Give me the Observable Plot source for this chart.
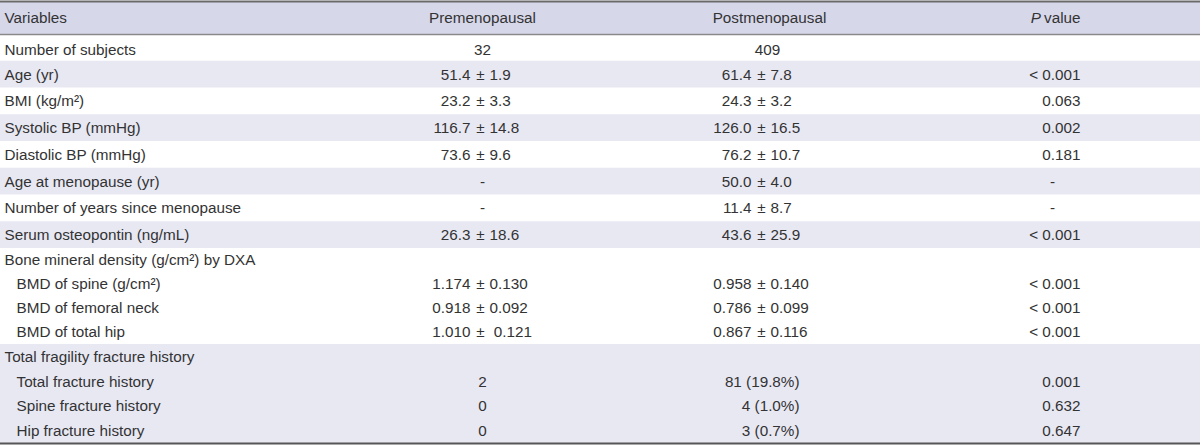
<!DOCTYPE html>
<html>
<head>
<meta charset="utf-8">
<script src="https://cdn.jsdelivr.net/npm/d3@7"></script>
<script src="https://cdn.jsdelivr.net/npm/@observablehq/plot@0.6"></script>
<style>
  html, body { margin: 0; padding: 0; background: #fff; }
  #chart svg { display: block; }
</style>
</head>
<body>
<div id="chart"></div>
<script>
// ---------- DATA ----------
const headers = ["Variables", "Premenopausal", "Postmenopausal", "P value"];
const variables = [
  "Number of subjects",
  "Age (yr)",
  "BMI (kg/m²)",
  "Systolic BP (mmHg)",
  "Diastolic BP (mmHg)",
  "Age at menopause (yr)",
  "Number of years since menopause",
  "Serum osteopontin (ng/mL)",
  "Bone mineral density (g/cm²) by DXA",
  "BMD of spine (g/cm²)",
  "BMD of femoral neck",
  "BMD of total hip",
  "Total fragility fracture history",
  "Total fracture history",
  "Spine fracture history",
  "Hip fracture history"
];
const subItem = [0,0,0,0,0,0,0,0,0,1,1,1,0,1,1,1];
const groupOf = [0,1,2,3,4,5,6,7,8,8,8,8,9,9,9,9];
const premenopausal = [
  "32", "51.4 ± 1.9", "23.2 ± 3.3", "116.7 ± 14.8", "73.6 ± 9.6", "-", "-", "26.3 ± 18.6",
  "", "1.174 ± 0.130", "0.918 ± 0.092", "1.010 ±  0.121",
  "", "2", "0", "0"
];
const postmenopausal = [
  "409", "61.4 ± 7.8", "24.3 ± 3.2", "126.0 ± 16.5", "76.2 ± 10.7", "50.0 ± 4.0", "11.4 ± 8.7", "43.6 ± 25.9",
  "", "0.958 ± 0.140", "0.786 ± 0.099", "0.867 ± 0.116",
  "", "81 (19.8%)", "4 (1.0%)", "3 (0.7%)"
];
const pValues = [
  "", "< 0.001", "0.063", "0.002", "0.181", "-", "-", "< 0.001",
  "", "< 0.001", "< 0.001", "< 0.001",
  "", "0.001", "0.632", "0.647"
];

// ---------- LAYOUT ----------
const W = 1200, H = 445;
const FONT = "'Liberation Sans', Arial, sans-serif";
const FS = 15.25;
const TXT = "#333";
const headerTop = 1, headerH = 33;
const rowH = 26.75;
const groupLineH = [24, 24.75];
const colX = {var: 4, indent: 16, prePM: 480, preC: 482, postPM: 761, postC: 767, postR: 799, pR: 1080, pC: 1052};
const pmGap = 10;

const ctx = document.createElement("canvas").getContext("2d");
ctx.font = `${FS}px ${FONT}`;
const measure = s => ctx.measureText(s).width;

const lines = [];
const bands = [];
let yCur = headerTop + headerH;
let gIdx = 0;
for (let g = 0; g <= 9; g++) {
  const members = d3.range(variables.length).filter(i => groupOf[i] === g);
  const multi = members.length > 1;
  const lh = multi ? groupLineH[gIdx++] : rowH;
  const top = yCur;
  members.forEach((i, k) => {
    let c = top + lh * (k + 0.5);
    if (g === 0) c += 2.5;
    lines.push({i, y: c});
  });
  yCur = top + lh * members.length;
  bands.push({g, y1: top, y2: yCur, shaded: g % 2 === 1});
}
const yOf = i => lines.find(l => l.i === i).y;

const items = [];
const hy = headerTop + headerH / 2;
items.push({text: headers[0], x: colX.var, y: hy, anchor: "start"});
items.push({text: headers[1], x: colX.preC, y: hy, anchor: "middle"});
items.push({text: headers[2], x: colX.postC + 2, y: hy, anchor: "middle"});
const pWord = headers[3].split(" ");
items.push({text: pWord[1], x: colX.pR, y: hy, anchor: "end"});
const italicItems = [{text: pWord[0], x: colX.pR - measure(pWord[1]) - 3, y: hy, anchor: "end"}];

function splitPM(s) {
  const parts = s.split("±");
  const mean = parts[0].trim();
  let sd = parts[1].replace(/^ /, "");
  sd = sd.replace(/^ +/, m => "\u00a0".repeat(m.length));
  return [mean, sd];
}
function addValue(s, i, pm, centreX, rightX) {
  const y = yOf(i);
  if (!s) return;
  if (s.includes("±")) {
    const [m, sd] = splitPM(s);
    items.push({text: m, x: pm - pmGap, y, anchor: "end"});
    items.push({text: "±", x: pm, y, anchor: "middle"});
    items.push({text: sd, x: pm + pmGap - 1, y, anchor: "start"});
  } else if (s.includes("(") && rightX != null) {
    items.push({text: s, x: rightX, y, anchor: "end"});
  } else {
    items.push({text: s, x: centreX, y, anchor: "middle"});
  }
}
variables.forEach((v, i) => {
  items.push({text: v, x: subItem[i] ? colX.indent : colX.var, y: yOf(i), anchor: "start"});
  addValue(premenopausal[i], i, colX.prePM, colX.preC, null);
  addValue(postmenopausal[i], i, colX.postPM, colX.postC, colX.postR);
  const p = pValues[i];
  if (p === "-") items.push({text: p, x: colX.pC, y: yOf(i), anchor: "middle"});
  else if (p) items.push({text: p, x: colX.pR, y: yOf(i), anchor: "end"});
});

const textMark = (data, anchor, extra = {}) => Plot.text(data.filter(d => d.anchor === anchor), {
  x: "x", y: "y", text: "text", textAnchor: anchor, fill: TXT,
  fontSize: FS, fontFamily: FONT, ...extra
});

const chart = Plot.plot({
  width: W,
  height: H,
  margin: 0,
  x: {type: "linear", domain: [0, W], range: [0, W], axis: null},
  y: {type: "linear", domain: [0, H], range: [0, H], axis: null},
  style: {fontFamily: FONT, fontSize: FS + "px", background: "#fff"},
  marks: [
    Plot.rect([{y1: headerTop, y2: headerTop + headerH}], {x1: 0, x2: W, y1: "y1", y2: "y2", fill: "#d7d7ea"}),
    Plot.rect(bands.filter(b => b.shaded), {x1: 0, x2: W, y1: "y1", y2: "y2", fill: "#e8e8f3"}),
    Plot.ruleY([headerTop], {stroke: "#6a6a6a", strokeWidth: 2}),
    Plot.ruleY([headerTop + headerH], {stroke: "#8a8a8a", strokeWidth: 1.5}),
    Plot.ruleY([yCur], {stroke: "#555", strokeWidth: 2}),
    textMark(items, "start"),
    textMark(items, "middle"),
    textMark(items, "end"),
    textMark(italicItems, "end", {fontStyle: "italic"})
  ]
});
document.getElementById("chart").appendChild(chart);
</script>
</body>
</html>
